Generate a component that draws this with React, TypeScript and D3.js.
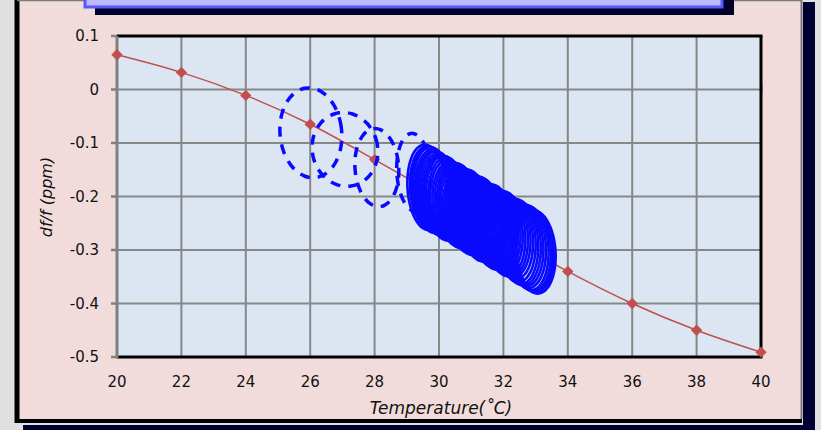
import React from 'react';
import * as d3 from 'd3';

const width = 821;
const height = 430;
const margin = { top: 36, right: 60, bottom: 73, left: 117 };
const red = '#c0504d';
const blue = '#0a0aff';
const font = '"DejaVu Sans", Verdana, sans-serif';

const tempTicks = [20, 22, 24, 26, 28, 30, 32, 34, 36, 38, 40];
const ppmTicks = [0.1, 0, -0.1, -0.2, -0.3, -0.4, -0.5];

// fitted reference curve (red)
const curveTemp = [20, 22, 24, 26, 28, 30, 32, 34, 36, 38, 40];
const curveDf = [0.065, 0.032, -0.011, -0.065, -0.131, -0.2, -0.272, -0.34, -0.4, -0.45, -0.491];

// first warm-up loops (dashed)
const dashT = [26.02, 27.08, 28.07, 29.22];
const dashDf = [-0.081, -0.112, -0.146, -0.155];
const dashHalfT = [0.96, 1.02, 0.68, 0.53];
const dashHalfDf = [0.084, 0.069, 0.073, 0.073];

// settled loops (solid)
const loopT = [29.62, 29.7, 29.75, 29.8, 29.86, 29.91, 29.97, 30.02, 30.08, 30.14, 30.2, 30.27, 30.33, 30.4, 30.47,
  30.54, 30.6, 30.66, 30.73, 30.8, 30.87, 30.94, 31.01, 31.08, 31.15, 31.22, 31.29, 31.36, 31.43, 31.5, 31.57, 31.64,
  31.71, 31.78, 31.86, 31.93, 32.0, 32.08, 32.16, 32.24, 32.32, 32.4, 32.48, 32.56, 32.64, 32.72, 32.8, 32.87, 32.93,
  32.98, 33.02];
const loopDf = [-0.183, -0.184, -0.186, -0.188, -0.19, -0.192, -0.194, -0.196, -0.198, -0.2, -0.203, -0.205, -0.207,
  -0.21, -0.212, -0.215, -0.217, -0.219, -0.222, -0.224, -0.227, -0.229, -0.232, -0.234, -0.237, -0.239, -0.242,
  -0.244, -0.247, -0.249, -0.252, -0.255, -0.257, -0.26, -0.262, -0.265, -0.267, -0.27, -0.273, -0.276, -0.279,
  -0.282, -0.285, -0.288, -0.291, -0.293, -0.296, -0.299, -0.301, -0.303, -0.304];
const loopHalfDf = [0.08, 0.078, 0.079, 0.08, 0.078, 0.077, 0.078, 0.076, 0.075, 0.077, 0.079, 0.078, 0.076, 0.075,
  0.076, 0.078, 0.079, 0.077, 0.075, 0.076, 0.078, 0.079, 0.078, 0.076, 0.075, 0.077, 0.079, 0.078, 0.076, 0.075,
  0.076, 0.078, 0.079, 0.077, 0.075, 0.076, 0.078, 0.079, 0.077, 0.075, 0.076, 0.078, 0.079, 0.078, 0.077, 0.078,
  0.079, 0.078, 0.077, 0.078, 0.077];
const loopHalfT = 0.6;
const tilt = 0.8; // deg C per ppm lean of each loop

const xScale = d3.scaleLinear().domain([20, 40]).range([margin.left, width - margin.right]);
const yScale = d3.scaleLinear().domain([0.1, -0.5]).range([margin.top, height - margin.bottom]);

const angles = d3.range(0, 48).map(i => (i / 48) * Math.PI * 2);

function loopPath(cT: number, cD: number, rT: number, rD: number) {
  const line = d3.line<number>()
    .x(a => xScale(cT + rT * Math.cos(a) - tilt * rD * Math.sin(a)))
    .y(a => yScale(cD + rD * Math.sin(a)))
    .curve(d3.curveCardinalClosed);
  return line(angles) || '';
}

export default function App() {
  const x0 = xScale(20), x1 = xScale(40);
  const y0 = yScale(0.1), y1 = yScale(-0.5);

  const redLine = d3.line<number>()
    .x((d, i) => xScale(curveTemp[i]))
    .y(d => yScale(d))
    .curve(d3.curveCatmullRom)(curveDf) || '';
  const diamond = d3.symbol().type(d3.symbolSquare).size(64)() || '';

  return (
    <div style={{ position: 'absolute', left: 0, top: 0 }}>
      <svg width={width} height={height} style={{ display: 'block' }}>
        <rect width={width} height={height} fill='#e0e0e0' />
        {/* panel shadow */}
        <rect x={803} y={2} width={12} height={428} fill='#000033' />
        <rect x={23} y={425} width={792} height={5} fill='#000033' />
        {/* panel */}
        <rect x={17} y={-2} width={784} height={423} fill='#f2dcdb' />
        <line x1={17} x2={17} y1={-2} y2={423} stroke='#000' strokeWidth={5} />
        <line x1={15} x2={802} y1={421} y2={421} stroke='#000' strokeWidth={4} />
        <line x1={801.5} x2={801.5} y1={0} y2={419} stroke='#7a7a7a' strokeWidth={2} />
        <line x1={17} x2={802} y1={0.5} y2={0.5} stroke='#7a7a7a' strokeWidth={1.5} />
        {/* title box */}
        <rect x={95} y={-5} width={639} height={20} fill='#00002a' />
        <rect x={85} y={-10} width={637} height={17} fill='#b9b9fb' stroke='#5757ff' strokeWidth={3} />

        {/* plot area */}
        <rect x={x0} y={y0} width={x1 - x0} height={y1 - y0} fill='#dce6f2' />
        {tempTicks.slice(1, -1).map(t => (
          <line key={'gx' + t} x1={xScale(t)} x2={xScale(t)} y1={y0} y2={y1} stroke='#878787' strokeWidth={2} />
        ))}
        {ppmTicks.slice(1, -1).map(t => (
          <line key={'gy' + t} x1={x0} x2={x1} y1={yScale(t)} y2={yScale(t)} stroke='#878787' strokeWidth={2} />
        ))}
        <rect x={x1 - 1} y={yScale(0) - 4} width={2.5} height={8} fill='#878787' />
        <line x1={x0} x2={x1 + 1.5} y1={y0} y2={y0} stroke='#000' strokeWidth={3} />
        <line x1={x1} x2={x1} y1={y0} y2={y1} stroke='#000' strokeWidth={3} />
        <line x1={x0} x2={x1 + 1.5} y1={y1} y2={y1} stroke='#000' strokeWidth={3} />
        <line x1={x0} x2={x0} y1={y0} y2={y1 + 1.5} stroke='#808080' strokeWidth={3} />
        {ppmTicks.map(t => (
          <line key={'ty' + t} x1={x0 - 6} x2={x0} y1={yScale(t)} y2={yScale(t)} stroke='#808080' strokeWidth={2.5} />
        ))}

        {/* reference curve */}
        <path d={redLine} fill='none' stroke={red} strokeWidth={1.5} />
        {curveTemp.map((t, i) => (
          <path key={'m' + t} d={diamond} fill={red}
            transform={`translate(${xScale(t)},${yScale(curveDf[i])}) rotate(45)`} />
        ))}

        {/* loops */}
        {dashT.map((t, i) => (
          <path key={'d' + i} d={loopPath(t, dashDf[i], dashHalfT[i], dashHalfDf[i])} fill='none'
            stroke={blue} strokeWidth={3.5} strokeDasharray='10 8' />
        ))}
        {loopT.map((t, i) => (
          <path key={'l' + i} d={loopPath(t, loopDf[i], loopHalfT, loopHalfDf[i])} fill='none'
            stroke={blue} strokeWidth={2.6} />
        ))}

        {/* tick labels */}
        {ppmTicks.map(t => (
          <text key={'ly' + t} x={x0 - 18} y={yScale(t)} dy='0.35em' textAnchor='end'
            fontFamily={font} fontSize={15} fill='#111'>{t === 0 ? '0' : d3.format('.1f')(t).replace('−', '-')}</text>
        ))}
        {tempTicks.map(t => (
          <text key={'lx' + t} x={xScale(t)} y={387} textAnchor='middle'
            fontFamily={font} fontSize={15} fill='#111'>{t}</text>
        ))}
        <text x={441} y={414} textAnchor='middle' fontFamily={font} fontSize={17} fontStyle='italic' fill='#111'>
          Temperature(˚C)
        </text>
        <text transform='translate(52,197) rotate(-90)' textAnchor='middle' fontFamily={font} fontSize={16}
          fontStyle='italic' fill='#111'>df/f (ppm)</text>
      </svg>
    </div>
  );
}
